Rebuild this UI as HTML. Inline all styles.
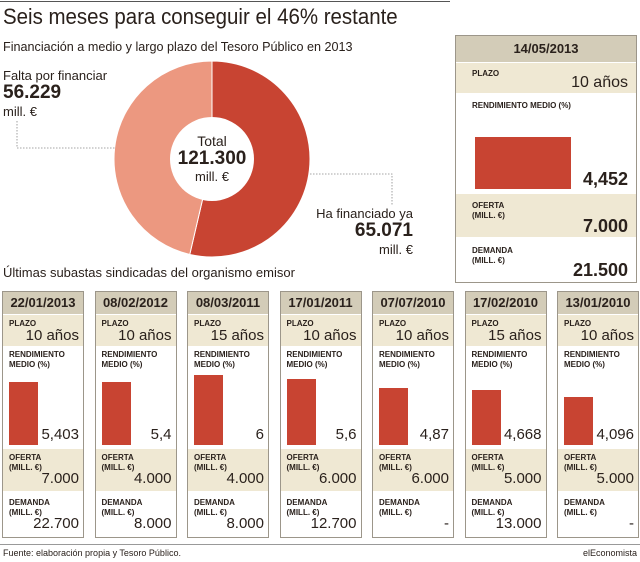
<!DOCTYPE html>
<html><head><meta charset="utf-8">
<style>
*{margin:0;padding:0;box-sizing:border-box}
body{width:640px;height:562px;background:#fff;font-family:"Liberation Sans",sans-serif;color:#2a211c;position:relative;overflow:hidden}
.a{position:absolute;white-space:nowrap}
.card{position:absolute;border:1px solid #9c968a;background:#fff}
.hd{position:absolute;left:0;right:0;background:#d3ccb8;font-weight:bold;text-align:center}
.band{position:absolute;left:0;right:0;background:#efe8d3}
.lbl{position:absolute;font-weight:bold;font-size:8px;line-height:10px}
.val{position:absolute;right:4px;font-size:15px}
.bar{position:absolute;background:#c84432}
</style></head><body>
<div class="a" style="left:0;top:1px;width:450px;height:1px;background:#555"></div>
<div class="a" style="left:3px;top:4px;font-size:22px;transform:scaleX(0.93);transform-origin:0 0;">Seis meses para conseguir el 46% restante</div>
<div class="a" style="left:3px;top:39px;font-size:13px;transform:scaleX(0.97);transform-origin:0 0;">Financiación a medio y largo plazo del Tesoro Público en 2013</div>

<svg class="a" style="left:0;top:0" width="450" height="280" id="pie"></svg>

<div class="a" style="left:3px;top:68px;font-size:13px;">Falta por financiar</div>
<div class="a" style="left:3px;top:82px;font-size:19px;font-weight:bold;">56.229</div>
<div class="a" style="left:3px;top:104px;font-size:13px;">mill. €</div>
<div class="a" style="left:162px;top:133px;width:100px;text-align:center;font-size:14px;">Total</div>
<div class="a" style="left:162px;top:148px;width:100px;text-align:center;font-size:19px;font-weight:bold;">121.300</div>
<div class="a" style="left:162px;top:169px;width:100px;text-align:center;font-size:13px;">mill. €</div>
<div class="a" style="left:300px;top:206px;width:113px;text-align:right;font-size:13px;">Ha financiado ya</div>
<div class="a" style="left:300px;top:220px;width:113px;text-align:right;font-size:19px;font-weight:bold;">65.071</div>
<div class="a" style="left:300px;top:242px;width:113px;text-align:right;font-size:13px;">mill. €</div>
<div class="a" style="left:3px;top:265px;font-size:13px;">Últimas subastas sindicadas del organismo emisor</div>

<div class="card" style="left:455px;top:35px;width:182px;height:248px;">
 <div class="hd" style="top:0;height:26px;line-height:26px;font-size:13px;">14/05/2013</div>
 <div class="band" style="top:27px;height:30px;"></div>
 <div class="lbl" style="left:16px;top:33px;">PLAZO</div>
 <div class="a" style="right:8px;top:38px;font-size:16px;">10 años</div>
 <div class="lbl" style="left:16px;top:65px;">RENDIMIENTO MEDIO (%)</div>
 <div class="bar" id="bigbar" style="left:19px;width:96px;"></div>
 <div class="a" style="right:8px;top:133px;font-size:18px;font-weight:bold;">4,452</div>
 <div class="band" style="top:158px;height:43px;"></div>
 <div class="lbl" style="left:16px;top:165px;">OFERTA<br>(MILL. €)</div>
 <div class="a" style="right:8px;top:180px;font-size:18px;font-weight:bold;">7.000</div>
 <div class="lbl" style="left:16px;top:210px;">DEMANDA<br>(MILL. €)</div>
 <div class="a" style="right:8px;top:224px;font-size:18px;font-weight:bold;">21.500</div>
</div>

<div id="cards"></div>

<div class="a" style="left:0;top:544px;width:640px;height:1px;background:#999"></div>
<div class="a" style="left:3px;top:548px;font-size:9px;">Fuente: elaboración propia y Tesoro Público.</div>
<div class="a" style="right:3px;top:548px;font-size:9px;">elEconomista</div>

<script>
const pieLabels=["Ha financiado ya","Falta por financiar"];
const pieValues=[65071,56229];
const pieColors=["#c84432","#ec9880"];
const latestYield=4.452;
const dates=["22/01/2013","08/02/2012","08/03/2011","17/01/2011","07/07/2010","17/02/2010","13/01/2010"];
const plazos=["10 años","10 años","15 años","10 años","10 años","15 años","10 años"];
const yields=[5.403,5.4,6,5.6,4.87,4.668,4.096];
const yieldLabels=["5,403","5,4","6","5,6","4,87","4,668","4,096"];
const ofertas=["7.000","4.000","4.000","6.000","6.000","5.000","5.000"];
const demandas=["22.700","8.000","8.000","12.700","-","13.000","-"];

const NS="http://www.w3.org/2000/svg";
const svg=document.getElementById('pie');
const cx=212,cy=159,R=98,r=42;
const tot=pieValues.reduce((a,b)=>a+b,0);
let ang=0;
pieValues.forEach((v,i)=>{
  const a0=ang,a1=ang+v/tot*2*Math.PI;ang=a1;
  const x0=cx+R*Math.sin(a0),y0=cy-R*Math.cos(a0),x1=cx+R*Math.sin(a1),y1=cy-R*Math.cos(a1);
  const p=document.createElementNS(NS,'path');
  p.setAttribute('d',`M${cx},${cy}L${x0},${y0}A${R},${R} 0 ${a1-a0>Math.PI?1:0} 1 ${x1},${y1}Z`);
  p.setAttribute('fill',pieColors[i]);p.setAttribute('stroke','#fff');p.setAttribute('stroke-width','1');
  
  
  svg.appendChild(p);
});
const c=document.createElementNS(NS,'circle');
c.setAttribute('cx',cx);c.setAttribute('cy',cy);c.setAttribute('r',r);c.setAttribute('fill','#fff');


svg.appendChild(c);
[["M17,121L17,148L115,148"],["M310,174L392,174L392,205"]].forEach((d,i)=>{
  const l=document.createElementNS(NS,'path');
  l.setAttribute('d',d[0]);l.setAttribute('fill','none');l.setAttribute('stroke','#888');l.setAttribute('stroke-width','0.8');l.setAttribute('stroke-dasharray','1.5,1.5');
  
  
  svg.appendChild(l);
});

const scale=11.7;
const bb=document.getElementById('bigbar');
bb.style.height=(latestYield*scale)+'px';
bb.style.top=(153-latestYield*scale)+'px';

const host=document.getElementById('cards');
dates.forEach((d,i)=>{
  const card=document.createElement('div');
  card.className='card';
  
  
  card.style.left=(2+i*92.5)+'px';card.style.top='291px';card.style.width='82px';card.style.height='247px';
  const h=yields[i]*scale;
  card.innerHTML=`
  <div class="hd" style="top:0;height:22px;line-height:22px;font-size:13px;">${d}</div>
  <div class="band" style="top:23px;height:31px;"></div>
  <div class="lbl" style="left:6px;top:27px;">PLAZO</div>
  <div class="val" style="top:35px;">${plazos[i]}</div>
  <div class="lbl" style="left:6px;top:58px;">RENDIMIENTO<br>MEDIO (%)</div>
  <div class="bar" style="left:6px;width:29px;top:${153-h}px;height:${h}px;"></div>
  <div class="val" style="top:134px;">${yieldLabels[i]}</div>
  <div class="band" style="top:157px;height:42px;"></div>
  <div class="lbl" style="left:6px;top:161px;">OFERTA<br>(MILL. €)</div>
  <div class="val" style="top:178px;">${ofertas[i]}</div>
  <div class="lbl" style="left:6px;top:206px;">DEMANDA<br>(MILL. €)</div>
  <div class="val" style="top:223px;">${demandas[i]}</div>`;
  host.appendChild(card);
});
</script>
</body></html>
